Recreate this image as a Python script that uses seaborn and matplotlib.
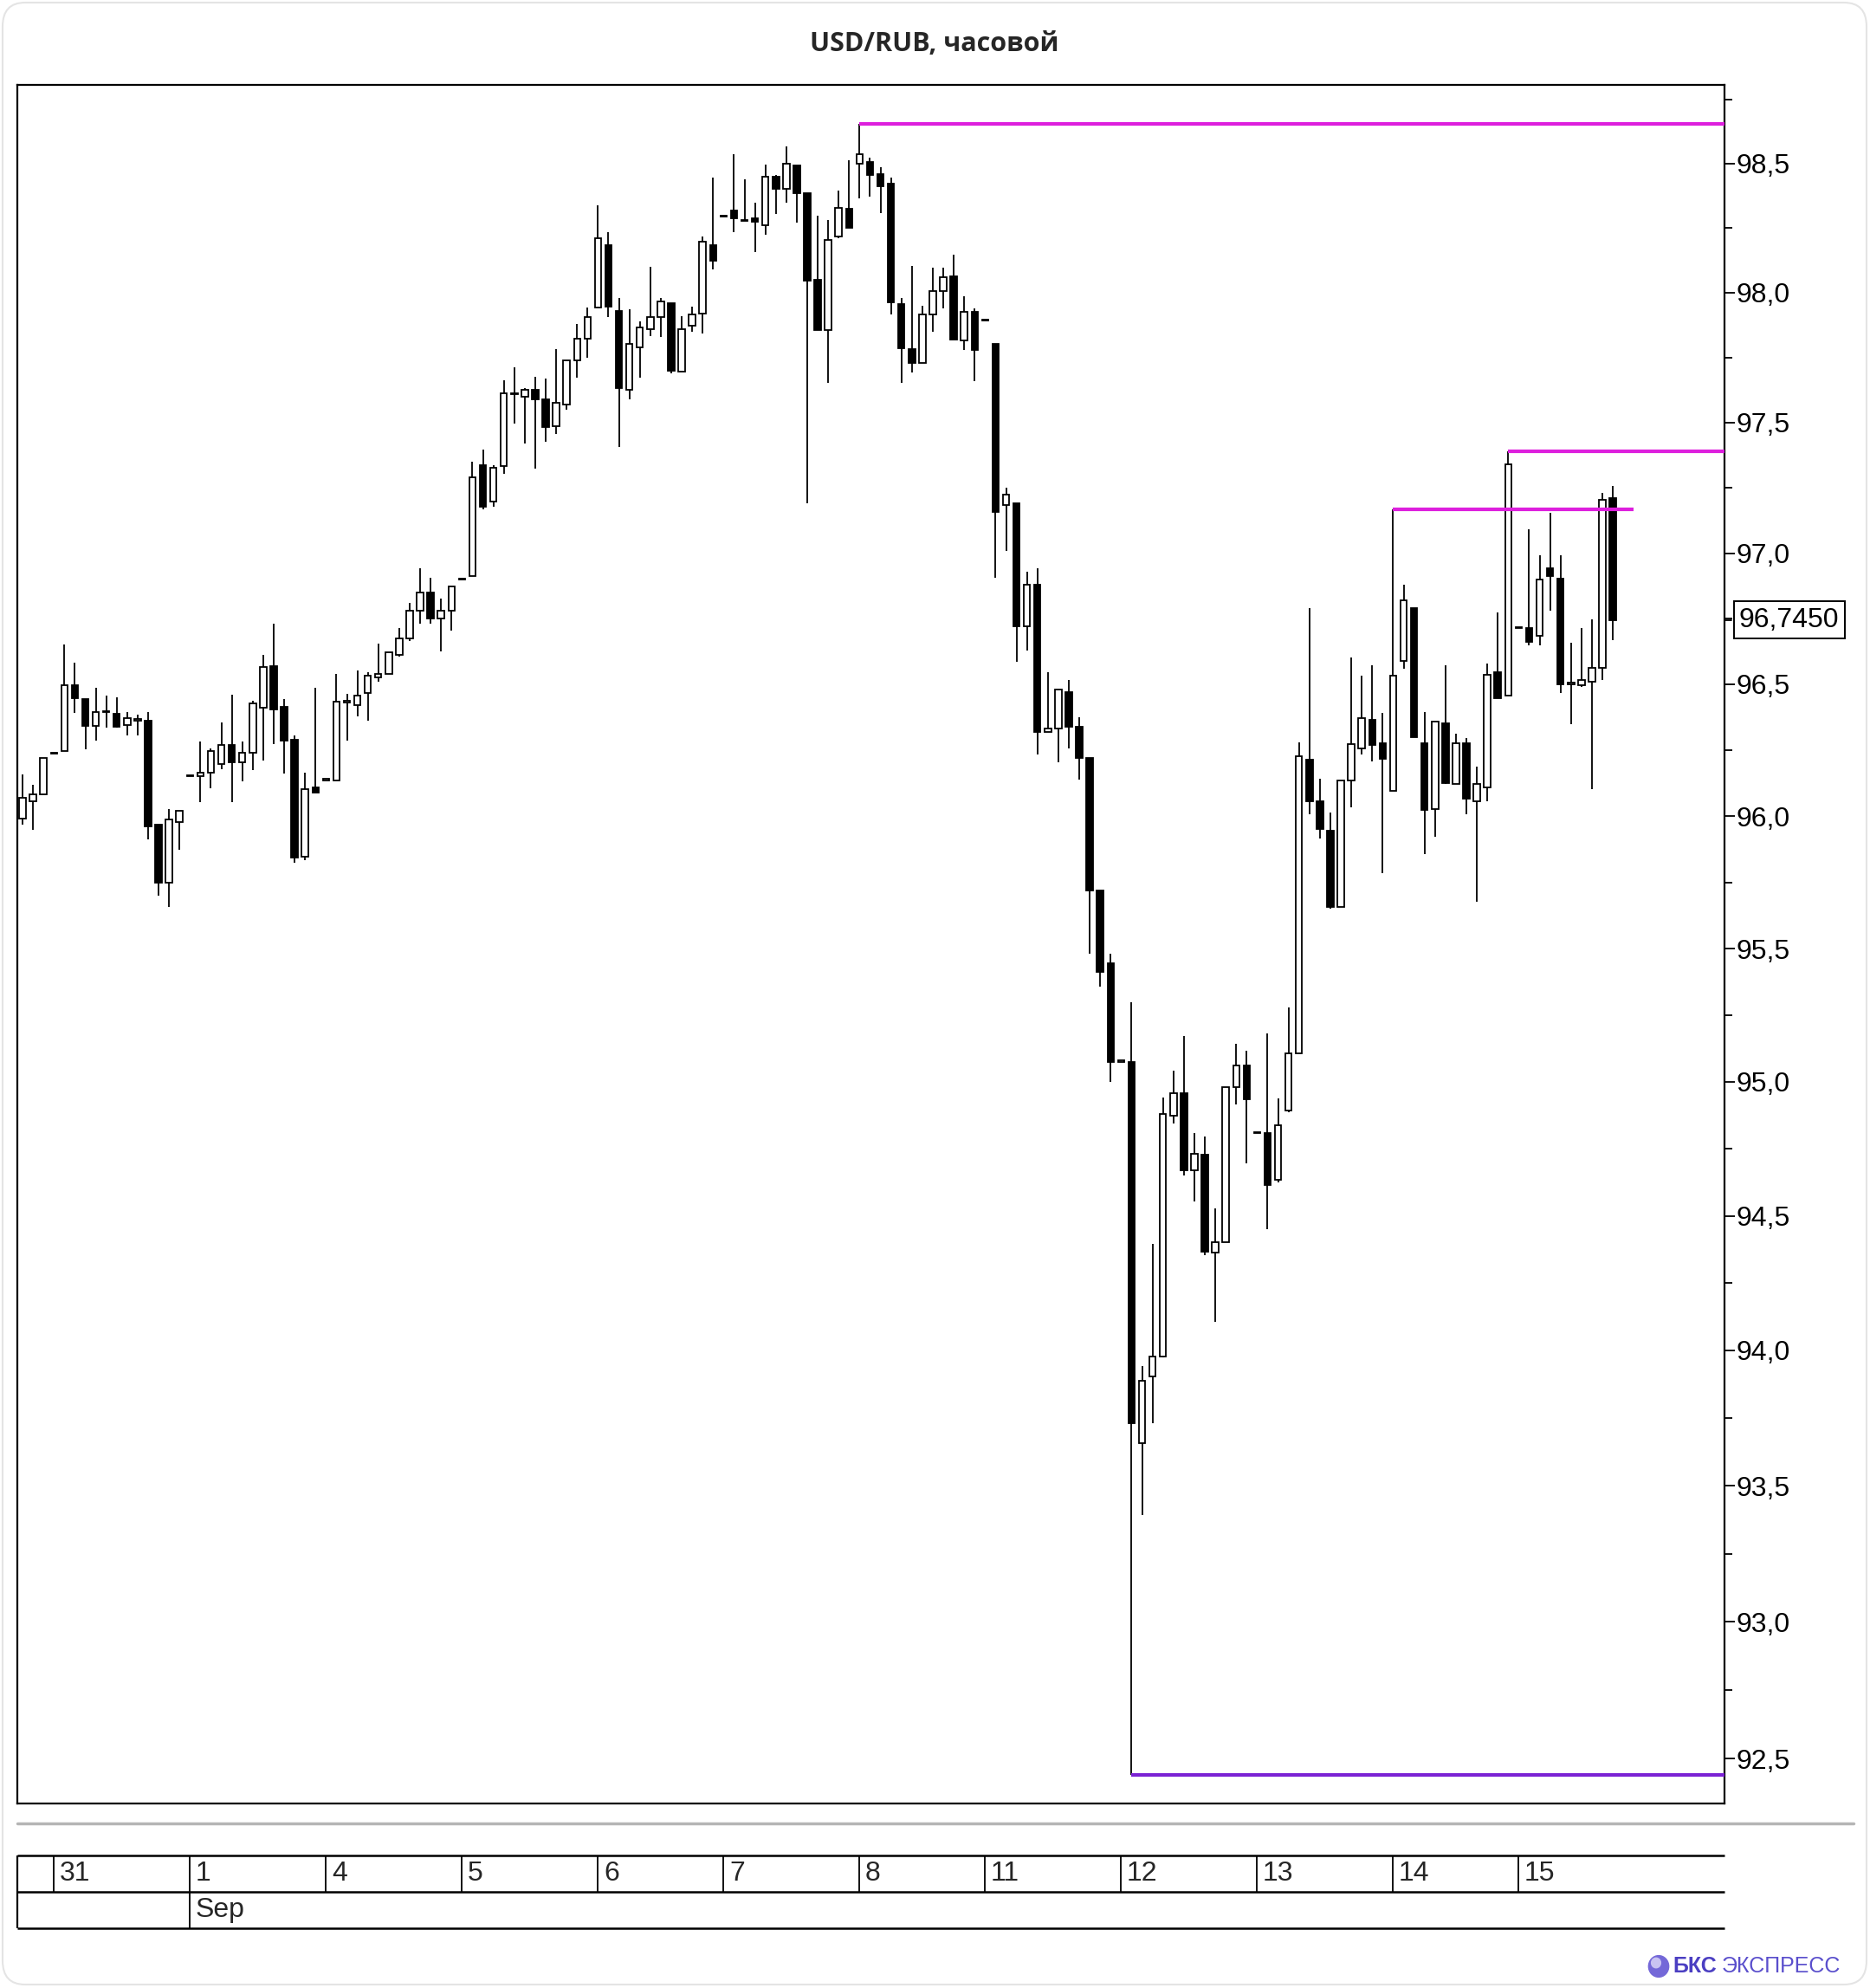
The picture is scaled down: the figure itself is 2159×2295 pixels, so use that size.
import numpy as np
import pandas as pd
import matplotlib

matplotlib.use("Agg")
import matplotlib.pyplot as plt
import seaborn as sns
from matplotlib.patches import FancyBboxPatch, Circle
from matplotlib.lines import Line2D
from matplotlib.ticker import FixedLocator, FuncFormatter, NullFormatter
from matplotlib.transforms import blended_transform_factory

# Часовые свечи USD/RUB
open_ = [
    95.992, 96.055, 96.081, 96.235, 96.246, 96.498, 96.444, 96.342, 96.394, 96.388,
    96.345, 96.363, 96.361, 95.969, 95.749, 95.978, 96.151, 96.150, 96.164, 96.198,
    96.270, 96.204, 96.241, 96.412, 96.568, 96.414, 96.290, 95.847, 96.109, 96.136,
    96.136, 96.432, 96.420, 96.468, 96.525, 96.539, 96.613, 96.674, 96.780, 96.851,
    96.752, 96.780, 96.899, 96.911, 97.335, 97.197, 97.332, 97.609, 97.598, 97.626,
    97.590, 97.486, 97.570, 97.738, 97.822, 97.943, 98.183, 97.931, 97.626, 97.789,
    97.858, 97.908, 97.959, 97.697, 97.873, 97.921, 98.183, 98.295, 98.318, 98.283,
    98.289, 98.260, 98.450, 98.403, 98.494, 98.387, 98.050, 97.857, 98.216, 98.326,
    98.499, 98.507, 98.459, 98.423, 97.958, 97.782, 97.731, 97.916, 98.008, 98.063,
    97.817, 97.927, 97.892, 97.802, 97.184, 97.189, 96.721, 96.880, 96.318, 96.331,
    96.469, 96.338, 96.220, 95.718, 95.444, 95.076, 95.076, 93.656, 93.903, 93.978,
    94.874, 94.958, 94.669, 94.727, 94.363, 94.403, 94.979, 95.060, 94.809, 94.809,
    94.634, 94.893, 95.107, 96.215, 96.055, 95.944, 95.657, 96.136, 96.255, 96.366,
    96.276, 96.096, 96.588, 96.790, 96.276, 96.026, 96.352, 96.121, 96.276, 96.055,
    96.109, 96.545, 96.457, 96.714, 96.714, 96.684, 96.941, 96.901, 96.501, 96.497,
    96.509, 96.564, 97.210,
]
high = [
    96.158, 96.118, 96.221, 96.235, 96.652, 96.583, 96.444, 96.485, 96.458, 96.451,
    96.396, 96.385, 96.396, 95.969, 96.028, 96.020, 96.151, 96.284, 96.256, 96.355,
    96.459, 96.284, 96.436, 96.612, 96.729, 96.444, 96.307, 96.166, 96.486, 96.136,
    96.539, 96.464, 96.553, 96.547, 96.656, 96.621, 96.713, 96.811, 96.942, 96.907,
    96.826, 96.871, 96.899, 97.349, 97.397, 97.335, 97.662, 97.713, 97.633, 97.677,
    97.670, 97.782, 97.738, 97.881, 97.943, 98.338, 98.233, 97.981, 97.937, 97.888,
    98.099, 97.981, 97.959, 97.909, 97.945, 98.219, 98.446, 98.295, 98.538, 98.439,
    98.348, 98.495, 98.456, 98.566, 98.494, 98.387, 98.297, 98.283, 98.395, 98.514,
    98.654, 98.523, 98.487, 98.445, 97.979, 98.105, 97.950, 98.097, 98.097, 98.148,
    97.986, 97.940, 97.892, 97.802, 97.249, 97.189, 96.930, 96.942, 96.547, 96.481,
    96.515, 96.375, 96.220, 95.718, 95.481, 95.076, 95.300, 93.941, 94.396, 94.941,
    95.042, 95.172, 94.809, 94.797, 94.529, 94.979, 95.143, 95.116, 94.809, 95.183,
    94.937, 95.278, 96.279, 96.791, 96.140, 96.014, 96.136, 96.602, 96.533, 96.573,
    96.392, 97.168, 96.880, 96.790, 96.396, 96.358, 96.573, 96.311, 96.295, 96.186,
    96.579, 96.773, 97.389, 96.714, 97.090, 96.992, 97.154, 96.992, 96.658, 96.714,
    96.746, 97.231, 97.257,
]
low = [
    95.969, 95.948, 96.081, 96.235, 96.246, 96.392, 96.252, 96.286, 96.334, 96.334,
    96.307, 96.307, 95.913, 95.700, 95.657, 95.872, 96.151, 96.053, 96.106, 96.177,
    96.052, 96.133, 96.175, 96.210, 96.272, 96.160, 95.825, 95.834, 96.088, 96.136,
    96.136, 96.286, 96.377, 96.363, 96.510, 96.539, 96.606, 96.666, 96.732, 96.732,
    96.625, 96.704, 96.899, 96.911, 97.169, 97.176, 97.302, 97.497, 97.421, 97.323,
    97.427, 97.455, 97.548, 97.673, 97.751, 97.943, 97.906, 97.407, 97.589, 97.673,
    97.834, 97.829, 97.689, 97.697, 97.849, 97.843, 98.090, 98.295, 98.236, 98.278,
    98.158, 98.226, 98.306, 98.349, 98.271, 97.191, 97.857, 97.652, 98.210, 98.251,
    98.364, 98.372, 98.309, 97.918, 97.652, 97.694, 97.731, 97.849, 97.940, 97.821,
    97.779, 97.659, 97.892, 96.905, 97.007, 96.584, 96.628, 96.232, 96.318, 96.205,
    96.255, 96.137, 95.481, 95.357, 95.001, 95.076, 92.440, 93.391, 93.730, 93.973,
    94.845, 94.651, 94.552, 94.354, 94.105, 94.403, 94.914, 94.696, 94.809, 94.451,
    94.625, 94.888, 95.107, 96.008, 95.916, 95.649, 95.657, 96.032, 96.233, 96.206,
    95.783, 96.096, 96.559, 96.300, 95.858, 95.921, 96.121, 96.121, 96.006, 95.675,
    96.055, 96.448, 96.457, 96.714, 96.649, 96.649, 96.779, 96.466, 96.350, 96.489,
    96.101, 96.517, 96.667,
]
close = [
    96.068, 96.082, 96.221, 96.235, 96.498, 96.447, 96.342, 96.394, 96.394, 96.339,
    96.372, 96.363, 95.962, 95.749, 95.986, 96.020, 96.151, 96.164, 96.248, 96.270,
    96.204, 96.241, 96.428, 96.566, 96.403, 96.286, 95.844, 96.103, 96.088, 96.136,
    96.434, 96.432, 96.457, 96.532, 96.539, 96.621, 96.676, 96.780, 96.851, 96.752,
    96.780, 96.871, 96.899, 97.291, 97.176, 97.326, 97.612, 97.609, 97.626, 97.590,
    97.484, 97.576, 97.738, 97.822, 97.907, 98.212, 97.947, 97.632, 97.803, 97.865,
    97.906, 97.965, 97.700, 97.858, 97.916, 98.196, 98.124, 98.295, 98.289, 98.278,
    98.275, 98.450, 98.401, 98.499, 98.384, 98.047, 97.857, 98.205, 98.329, 98.251,
    98.538, 98.457, 98.412, 97.962, 97.786, 97.731, 97.916, 98.005, 98.059, 97.821,
    97.927, 97.779, 97.892, 97.158, 97.223, 96.721, 96.880, 96.318, 96.331, 96.481,
    96.338, 96.220, 95.718, 95.412, 95.076, 95.076, 93.730, 93.887, 93.979, 94.879,
    94.958, 94.669, 94.731, 94.367, 94.403, 94.979, 95.060, 94.935, 94.809, 94.616,
    94.839, 95.107, 96.226, 96.056, 95.950, 95.657, 96.136, 96.272, 96.372, 96.268,
    96.218, 96.533, 96.821, 96.300, 96.024, 96.358, 96.125, 96.276, 96.067, 96.121,
    96.536, 96.448, 97.339, 96.714, 96.661, 96.899, 96.912, 96.501, 96.501, 96.517,
    96.564, 97.205, 96.745,
]

# начало торговых дней (номер свечи) и подписи
day_start = [3, 16, 29, 42, 55, 67, 80, 92, 105, 118, 131, 143]
day_labels = ["31", "1", "4", "5", "6", "7", "8", "11", "12", "13", "14", "15"]
month_start = [16]
month_labels = ["Sep"]

# уровни: от свечи, до свечи, цена
level_from = [80, 142, 131, 106]
level_to = [None, None, 154, None]
level_price = [98.654, 97.389, 97.168, 92.440]
level_color = ["#dd1fdd", "#dd1fdd", "#dd1fdd", "#7b22d4"]

last_price = 96.745
y_major = [92.5, 93.0, 93.5, 94.0, 94.5, 95.0, 95.5, 96.0, 96.5, 97.0, 97.5, 98.0, 98.5]
y_minor = [92.75, 93.25, 93.75, 94.25, 94.75, 95.25, 95.75, 96.25, 96.75,
           97.25, 97.75, 98.25, 98.75]

W, H = 2159, 2295
sns.set_theme(style="white")
plt.rcParams["font.family"] = ["Liberation Sans", "DejaVu Sans"]


def fx(px):
    return px / W


def fy(py):
    return 1 - py / H


df = pd.DataFrame({"open": open_, "high": high, "low": low, "close": close})
df["idx"] = np.arange(len(df))
df["up"] = df["close"] >= df["open"]
df["bottom"] = df[["open", "close"]].min(axis=1)
df["height"] = (df["close"] - df["open"]).abs().clip(lower=0.004)

fig = plt.figure(figsize=(W / 100, H / 100), dpi=100)
fig.patch.set_facecolor("white")

XMIN, XMAX = -0.5, 162.67
ax = fig.add_axes([fx(20), fy(2082), fx(1991) - fx(20), fy(98) - fy(2082)])
ax.set_facecolor("white")
ax.set_yscale("log")

ax.vlines(df["idx"], df["low"], df["high"], color="black", lw=1.3, zorder=2)
ax.bar(df["idx"], df["height"], width=0.62, bottom=df["bottom"],
       color=np.where(df["up"], "white", "black"), edgecolor="black",
       linewidth=1.3, zorder=3)

for x0, x1, y, col in zip(level_from, level_to, level_price, level_color):
    ax.hlines(y, x0, XMAX if x1 is None else x1, colors=col, lw=3.0, zorder=4)

ax.set_xlim(XMIN, XMAX)
ax.set_ylim(92.337, 98.806)
ax.set_xticks([])
ax.yaxis.tick_right()
ax.yaxis.set_major_locator(FixedLocator(y_major))
ax.yaxis.set_minor_locator(FixedLocator(y_minor))
ax.yaxis.set_major_formatter(FuncFormatter(lambda v, p: f"{v:.1f}".replace(".", ",")))
ax.yaxis.set_minor_formatter(NullFormatter())
ax.tick_params(axis="y", which="major", direction="out", length=8.5, width=1.3,
               pad=1.5, labelsize=23, colors="black", left=False)
ax.tick_params(axis="y", which="minor", direction="out", length=6.5, width=1.3,
               colors="black", left=False)
for s in ax.spines.values():
    s.set_color("black")
    s.set_linewidth(1.6)

# метка последней цены
tr = blended_transform_factory(ax.transAxes, ax.transData)
ax.plot([1, 1.004], [last_price, last_price], transform=tr, color="black",
        lw=1.3, clip_on=False)
ax.text(1.0086, last_price, f"{last_price:.4f}".replace(".", ","), transform=tr,
        ha="left", va="center", fontsize=23, color="black",
        bbox=dict(boxstyle="square,pad=0.2", fc="white", ec="black", lw=1.4))

fig.text(fx(1079), fy(51), "USD/RUB, часовой", ha="center", va="center",
         fontsize=22, fontweight="bold", family=["Open Sans", "DejaVu Sans"])

# серая разделительная линия
fig.add_artist(Line2D([fx(20), fx(2140)], [fy(2105), fy(2105)],
                      color="#b5b5b5", lw=2.5))

# шкала дат
tax = fig.add_axes([fx(20), fy(2226), fx(1991) - fx(20), fy(2142) - fy(2226)])
tax.set_xlim(XMIN, XMAX)
tax.set_ylim(0, 2)
tax.axis("off")
for yy in [0, 1, 2]:
    tax.hlines(yy, XMIN, XMAX, color="black", lw=1.8, clip_on=False)
tax.vlines(XMIN, 0, 2, color="black", lw=1.6, clip_on=False)
for d, lab in zip(day_start, day_labels):
    tax.vlines(d, 1, 2, color="black", lw=1.3, clip_on=False)
    tax.text(d + 0.55, 1.5, lab, ha="left", va="center", fontsize=23)
for m, lab in zip(month_start, month_labels):
    tax.vlines(m, 0, 1, color="black", lw=1.3, clip_on=False)
    tax.text(m + 0.55, 0.5, lab, ha="left", va="center", fontsize=23)

# рамка-карточка
card = FancyBboxPatch((fx(3), fy(2291)), fx(2155) - fx(3), fy(3) - fy(2291),
                      boxstyle="round,pad=0,rounding_size=0.012",
                      transform=fig.transFigure, fc="none", ec="#e4e4e4", lw=1.5)
fig.add_artist(card)

# логотип
fig.add_artist(Circle((fx(1915), fy(2270)), 0.0054, transform=fig.transFigure,
                      color="#7468d8", zorder=5))
fig.add_artist(Circle((fx(1912), fy(2266)), 0.0025, transform=fig.transFigure,
                      color="#c9c3f2", zorder=6))
fig.text(fx(1931), fy(2270), "БКС", ha="left", va="center", fontsize=18,
         fontweight="bold", color="#4b3fc2")
fig.text(fx(1988), fy(2270), "ЭКСПРЕСС", ha="left", va="center", fontsize=18,
         color="#5a4fcc")

fig.savefig("out.png", dpi=100, facecolor="white")
